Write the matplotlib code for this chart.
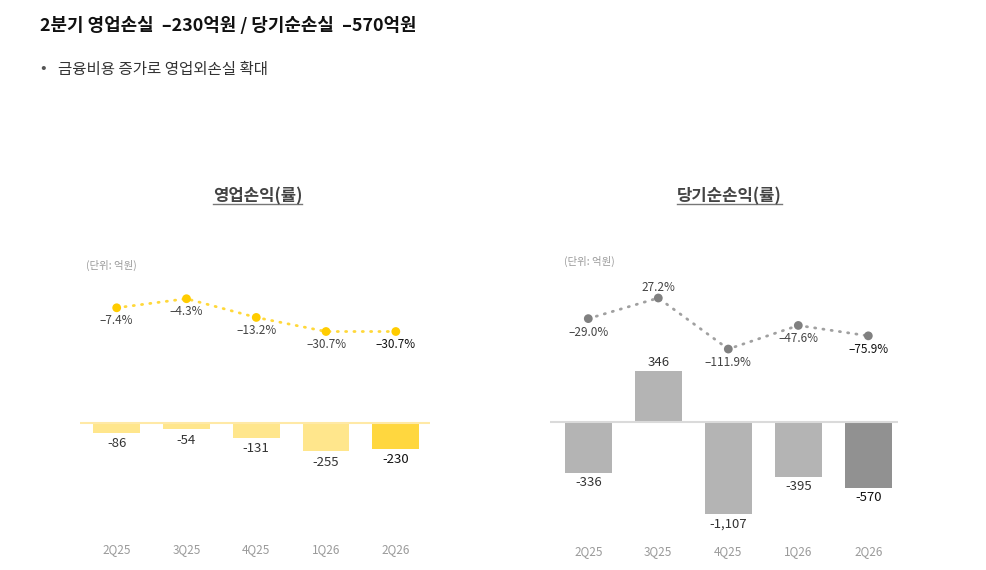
import numpy as np
import matplotlib
matplotlib.use("Agg")
import matplotlib.pyplot as plt
from matplotlib.transforms import blended_transform_factory
from matplotlib.lines import Line2D

plt.rcParams['font.family'] = ['Noto Sans CJK KR', 'DejaVu Sans']

# ---------------- data ----------------
quarters = ["2Q25", "3Q25", "4Q25", "1Q26", "2Q26"]
op_income = [-86, -54, -131, -255, -230]            # 영업손익 (억원)
op_margin = [-7.4, -4.3, -13.2, -30.7, -30.7]       # 영업이익률 (%)
net_income = [-336, 346, -1107, -395, -570]         # 당기순손익 (억원)
net_margin = [-29.0, 27.2, -111.9, -47.6, -75.9]    # 당기순이익률 (%)

title_text = "2분기 영업손실  –230억원 / 당기순손실  –570억원"
bullet_text = "금융비용 증가로 영업외손실 확대"
left_title = "영업손익(률)"
right_title = "당기순손익(률)"
unit_text = "(단위: 억원)"

W, H = 987, 570
fig = plt.figure(figsize=(W / 100, H / 100), dpi=100)
fig.patch.set_facecolor("white")


def rect(x0, y0, x1, y1):
    return [x0 / W, 1 - y1 / H, (x1 - x0) / W, (y1 - y0) / H]


def fy(y):
    return 1 - y / H


def fx(x):
    return x / W


# ---------------- header ----------------
fig.text(fx(40), fy(26), title_text, fontsize=12.9, fontweight="bold",
         color="#111111", va="center", ha="left")
fig.text(fx(40.5), fy(68.5), "•", fontsize=12, color="#555555", va="center", ha="left")
fig.text(fx(58), fy(69), bullet_text, fontsize=11.2, color="#333333",
         va="center", ha="left")

t_left = fig.text(fx(257.5), fy(196), left_title, fontsize=12, fontweight="bold",
                  color="#444444", va="center", ha="center")
t_right = fig.text(fx(729.5), fy(196), right_title, fontsize=12, fontweight="bold",
                   color="#444444", va="center", ha="center")

fig.text(fx(86), fy(265.5), unit_text, fontsize=7.5, color="#9a9a9a", va="center", ha="left")
fig.text(fx(564), fy(261), unit_text, fontsize=7.5, color="#9a9a9a", va="center", ha="left")

x = np.arange(len(quarters))
dots = (0, (0.4, 2.6))

# ---------------- left chart: bars ----------------
axL = fig.add_axes(rect(80, 380, 430, 480))
axL.set_xlim(-0.526, 4.49)
k = 0.11  # px per unit
axL.set_ylim(-(480 - 423.3) / k, (423.3 - 380) / k)
colsL = ["#FFE68C"] * 4 + ["#FFD73F"]
axL.bar(x, op_income, width=0.67, color=colsL, zorder=2)
axL.axhline(0, color="#FFE9A6", lw=1.5, zorder=3)
for i, v in enumerate(op_income):
    axL.annotate(f"{v:,}", (x[i], v), xytext=(0, -11), textcoords="offset pixels",
                 ha="center", va="center", fontsize=9.5,
                 color="#111111" if i == 4 else "#333333")
trL = blended_transform_factory(axL.transData, fig.transFigure)
for i, q in enumerate(quarters):
    axL.text(x[i], fy(550), q, transform=trL, ha="center", va="center",
             fontsize=8.5, color="#9a9a9a")
axL.axis("off")

# ---------------- left chart: margin line ----------------
axLl = fig.add_axes(rect(80, 280, 430, 345))
axLl.set_xlim(-0.526, 4.49)
axLl.set_yscale("function", functions=(lambda v: -np.log(-np.minimum(v, -1e-9)),
                                       lambda u: -np.exp(-u)))
axLl.set_ylim(-68.9, -1.40)
axLl.plot(x, op_margin, color="#FFD83A", lw=2.0, linestyle=dots,
          dash_capstyle="round", zorder=2)
axLl.scatter(x, op_margin, s=40, color="#FFCC00", zorder=3, edgecolors="none")
for i, v in enumerate(op_margin):
    axLl.annotate(f"{v:.1f}%".replace("-", "–"), (x[i], v), xytext=(0, -13),
                  textcoords="offset pixels", ha="center", va="center",
                  fontsize=8.5, color="#111111" if i == 4 else "#444444")
axLl.axis("off")

# ---------------- right chart: bars ----------------
axR = fig.add_axes(rect(550, 360, 898, 530))
axR.set_xlim(-0.547, 4.424)
kr = 2.75
axR.set_yscale("function", functions=(lambda v: np.sign(v) * np.sqrt(np.abs(v)),
                                      lambda u: np.sign(u) * u ** 2))
axR.set_ylim(-((530 - 422.3) / kr) ** 2, ((422.3 - 360) / kr) ** 2)
colsR = ["#B4B4B4"] * 4 + ["#919191"]
axR.bar(x, net_income, width=0.67, color=colsR, zorder=2)
axR.axhline(0, color="#DADADA", lw=1.5, zorder=3)
for i, v in enumerate(net_income):
    off = 9 if v > 0 else -10
    axR.annotate(f"{v:,}", (x[i], v), xytext=(0, off), textcoords="offset pixels",
                 ha="center", va="center", fontsize=9.5,
                 color="#111111" if i == 4 else "#333333")
trR = blended_transform_factory(axR.transData, fig.transFigure)
for i, q in enumerate(quarters):
    axR.text(x[i], fy(552), q, transform=trR, ha="center", va="center",
             fontsize=8.5, color="#9a9a9a")
axR.axis("off")

# ---------------- right chart: margin line ----------------
axRl = fig.add_axes(rect(550, 275, 898, 370))
axRl.set_xlim(-0.547, 4.424)
kl = 0.367
axRl.set_ylim(27.2 - (370 - 298) / kl, 27.2 + (298 - 275) / kl)
axRl.plot(x, net_margin, color="#A0A0A0", lw=2.0, linestyle=dots,
          dash_capstyle="round", zorder=2)
axRl.scatter(x, net_margin, s=40, color="#808080", zorder=3, edgecolors="none")
for i, v in enumerate(net_margin):
    off = 11 if v > 0 else -13.5
    axRl.annotate(f"{v:.1f}%".replace("-", "–"), (x[i], v), xytext=(0, off),
                  textcoords="offset pixels", ha="center", va="center",
                  fontsize=8.5, color="#111111" if i == 4 else "#444444")
axRl.axis("off")

# ---------------- title underlines ----------------
fig.canvas.draw()
r = fig.canvas.get_renderer()
for t in (t_left, t_right):
    bb = t.get_window_extent(r)
    yl = bb.y0 + 1
    fig.add_artist(Line2D([bb.x0 / W, bb.x1 / W], [yl / H, yl / H],
                          color="#777777", lw=1.0, transform=fig.transFigure))

fig.savefig("out.png", dpi=100, facecolor="white")
